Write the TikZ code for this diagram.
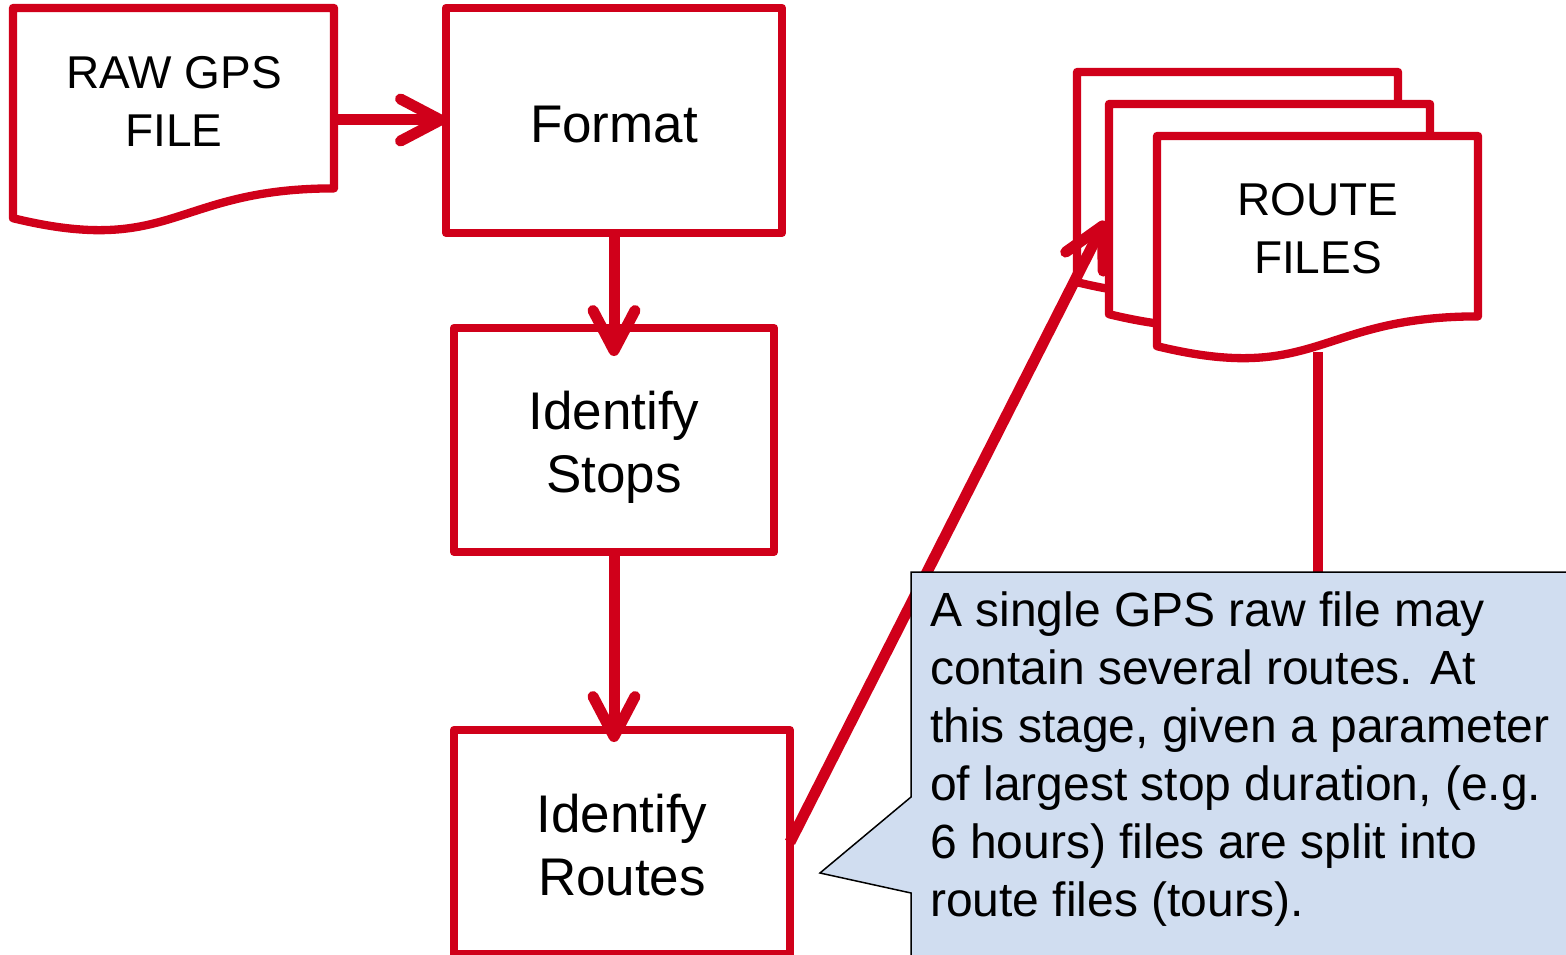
\documentclass[tikz,border=0pt]{standalone}
\usepackage{fontspec}
\setmainfont{Liberation Sans}
\usetikzlibrary{arrows.meta}
\definecolor{flowred}{RGB}{208,0,26}
\definecolor{noteblue}{RGB}{208,221,240}
\tikzset{
  redline/.style={draw=flowred, line width=8.3pt, line join=round},
  procbox/.style={redline, rectangle, fill=white, outer sep=0pt, inner sep=0pt},
  boxtext/.style={align=center, inner sep=0pt, font=\fontsize{53}{63}\selectfont},
  doctext/.style={align=center, inner sep=0pt, font=\fontsize{46}{58}\selectfont},
  flowarrow/.style={redline, line width=11pt, line cap=butt,
    -{Straight Barb[length=40pt, width=42pt, line width=0pt 1, round]}},
  notetext/.style={align=left, inner sep=0pt, anchor=north west,
    font=\fontsize{48}{58}\selectfont}
}
\begin{document}
\begin{tikzpicture}[x=1pt, y=-1pt]
\clip (0,0) rectangle (1566,955);
\fill[white] (0,0) rectangle (1566,955);

% RAW GPS FILE document
\draw[redline, fill=white] (13,8) -- (334,8) -- (334,188.4)
  .. controls (173.5,188.4) and (173.5,257.2) .. (13,218.2) -- cycle;
\node[doctext] (raw) at (174,101) {RAW GPS\\FILE};

% process boxes
\node[procbox, minimum width=336pt, minimum height=225pt] (format) at (614,120.5) {};
\node[boxtext] (formattxt) at (614,124.5) {Format};
\node[procbox, minimum width=320pt, minimum height=224pt] (stops) at (614,440) {};
\node[boxtext] (stopstxt) at (614,447) {Identify\\Stops};
\node[procbox, minimum width=336pt, minimum height=224.5pt] (routes) at (622,842.25) {};
\node[boxtext] (routestxt) at (622,845.5) {Identify\\Routes};

% connectors
\coordinate (rawout) at (338,120);
\draw[flowarrow] (rawout) -- (rawout -| format.west);
\draw[flowarrow, shorten >=-28pt] ([yshift=-4pt]format.south) -- (stops.north);
\draw[flowarrow, shorten >=-12pt] ([yshift=-4pt]stops.south) -- (stops.south |- routes.north);

% stacked route files
\draw[redline, fill=white] (1077,72) -- (1398,72) -- (1398,252.4)
  .. controls (1237.5,252.4) and (1237.5,321.2) .. (1077,282.2) -- cycle;
\coordinate (rftip) at (1105,221);
\draw[flowarrow] (routes.east) -- (rftip);
\draw[redline, fill=white] (1109,104) -- (1430,104) -- (1430,284.4)
  .. controls (1269.5,284.4) and (1269.5,353.2) .. (1109,314.2) -- cycle;
\draw[redline, fill=white] (1157,136) -- (1478,136) -- (1478,316.4)
  .. controls (1317.5,316.4) and (1317.5,385.2) .. (1157,346.2) -- cycle;
\node[doctext] (rf) at (1318,229) {ROUTE\\FILES};
\coordinate (rfbottom) at (1318,352);

% callout
\node[minimum width=660pt, minimum height=390pt, inner sep=0pt, outer sep=0pt,
  anchor=north west] (callout) at (911,572) {};
\draw[redline, line width=10pt, line cap=butt] (rfbottom) -- (rfbottom |- callout.north);
\draw[black, line width=1.5pt, fill=noteblue]
  (callout.north west) -- (callout.north east) -- (callout.south east)
  -- (callout.south west) -- (911,893) -- (820,873) -- (911,797) -- cycle;
\node[notetext] (note) at (930,592) {A single GPS raw file may\\contain several routes. At\\this stage, given a parameter\\of largest stop duration, (e.g.\\6 hours) files are split into\\route files (tours).};
\end{tikzpicture}
\end{document}
